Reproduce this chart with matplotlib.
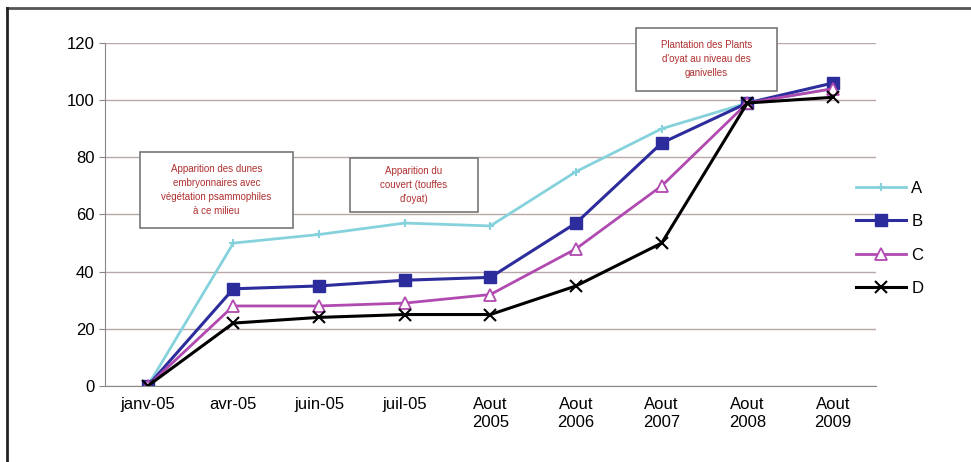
import matplotlib
matplotlib.use('Agg')
import matplotlib.pyplot as plt
from matplotlib.patches import Rectangle

categories = ['janv-05', 'avr-05', 'juin-05', 'juil-05', 'Aout\n2005', 'Aout\n2006',
              'Aout\n2007', 'Aout\n2008', 'Aout\n2009']
serie_a = [0, 50, 53, 57, 56, 75, 90, 99, 104]
serie_b = [0, 34, 35, 37, 38, 57, 85, 99, 106]
serie_c = [0, 28, 28, 29, 32, 48, 70, 99, 104]
serie_d = [0, 22, 24, 25, 25, 35, 50, 99, 101]

notes = ["Apparition des dunes\nembryonnaires avec\nvégétation psammophiles\nà ce milieu",
         "Apparition du\ncouvert (touffes\nd'oyat)",
         "Plantation des Plants\nd'oyat au niveau des\nganivelles"]

plt.rcParams['font.family'] = ['Liberation Sans', 'DejaVu Sans']

fig = plt.figure(figsize=(9.71, 4.62), dpi=100)
ax = fig.add_axes([0.108, 0.1645, 0.794, 0.7425])

x = range(len(categories))
ax.plot(x, serie_a, color='#86d2dc', lw=2, marker='+', ms=6, mew=1.5, label='A')
ax.plot(x, serie_b, color='#2c2c9c', lw=2.2, marker='s', ms=9, label='B')
ax.plot(x, serie_c, color='#b04ab0', lw=2, marker='^', ms=9, mfc='white', mew=1.3, label='C')
ax.plot(x, serie_d, color='black', lw=2.2, marker='x', ms=9, mew=1.5, label='D')

ax.set_xlim(-0.5, 8.5)
ax.set_ylim(0, 120)
ax.set_yticks(range(0, 121, 20))
ax.set_xticks(list(x))
ax.set_xticklabels(categories, fontsize=12)
ax.tick_params(axis='y', labelsize=12, length=4, color='#888888')
ax.tick_params(axis='x', length=0, pad=8)
ax.grid(axis='y', color='#b8a8a8', lw=1)
ax.set_axisbelow(True)
for s in ['top', 'right']:
    ax.spines[s].set_visible(False)
for s in ['left', 'bottom']:
    ax.spines[s].set_color('#888888')

ax.legend(loc='center left', bbox_to_anchor=(0.955, 0.43), frameon=False, fontsize=12,
          handlelength=3, labelspacing=1.1, handletextpad=0.3)

# annotation boxes (pixel positions)
W, H = 971, 462
boxes = [(140, 152, 153, 76), (350, 158, 128, 54), (636, 28, 141, 63)]
for (bx, by, bw, bh), txt in zip(boxes, notes):
    fig.add_artist(Rectangle((bx / W, 1 - (by + bh) / H), bw / W, bh / H,
                             transform=fig.transFigure, facecolor='white',
                             edgecolor='#777777', lw=1.2, zorder=5))
    fig.text((bx + bw / 2) / W, 1 - (by + bh / 2) / H, txt, ha='center', va='center',
             fontsize=7, color='#b03030', linespacing=1.5, zorder=6)

# outer frame: only top and left edges visible
fig.add_artist(plt.Line2D([7 / W, 1], [1 - 8 / H, 1 - 8 / H], transform=fig.transFigure,
                          color='#555555', lw=2))
fig.add_artist(plt.Line2D([7 / W, 7 / W], [0, 1 - 8 / H], transform=fig.transFigure,
                          color='#222222', lw=2))

plt.savefig('out.png', dpi=100)
